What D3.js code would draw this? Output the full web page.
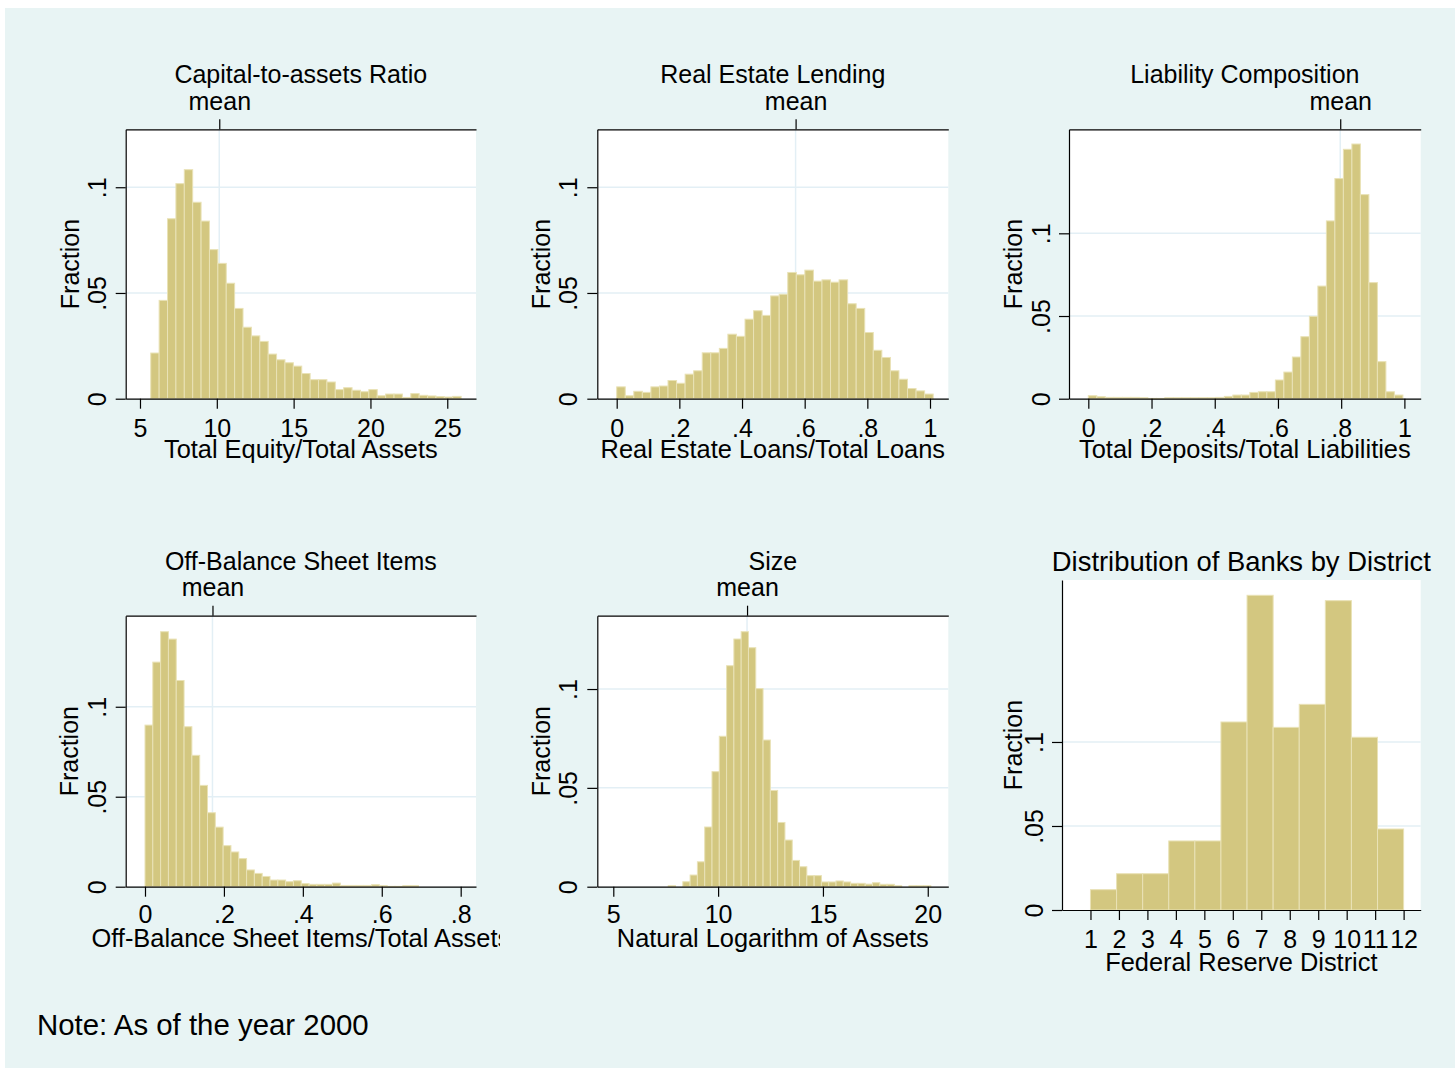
<!DOCTYPE html>
<html>
<head>
<meta charset="utf-8">
<script src="https://cdn.jsdelivr.net/npm/d3@7"></script>
<style>
  body { margin: 0; background: #fff; }
  svg { display: block; }
  text { font-family: "Liberation Sans", Arial, sans-serif; fill: #000; }
</style>
</head>
<body>
<div id="container"></div>
<script>
// ---- data (fractions per bin) ----
const capitalStart = 5.70, capitalStep = 0.546, capitalMean = 10.16;
const capitalFrac = [0.0216, 0.0465, 0.0851, 0.1017, 0.1083, 0.0929, 0.0840, 0.0705, 0.0640, 0.0546,
  0.0427, 0.0338, 0.0297, 0.0271, 0.0211, 0.0184, 0.0170, 0.0154, 0.0119, 0.0090,
  0.0090, 0.0079, 0.0043, 0.0052, 0.0040, 0.0033, 0.0043, 0.0014, 0.0022, 0.0022,
  0.0006, 0.0024, 0.0016, 0.0013, 0.0010, 0.0008, 0.0011];

const realEstateStart = 0, realEstateStep = 0.0273, realEstateMean = 0.571;
const realEstateFrac = [0.0056, 0.0014, 0.0035, 0.0030, 0.0056, 0.0060, 0.0086, 0.0073, 0.0116, 0.0132,
  0.0217, 0.0217, 0.0238, 0.0305, 0.0295, 0.0376, 0.0416, 0.0394, 0.0486, 0.0494,
  0.0597, 0.0586, 0.0608, 0.0556, 0.0562, 0.0551, 0.0562, 0.0449, 0.0427, 0.0313,
  0.0229, 0.0195, 0.0132, 0.0092, 0.0048, 0.0037, 0.0022];

const depositStart = 0, depositStep = 0.0269, depositMean = 0.797;
const depositFrac = [0.0018, 0.0012, 0.0008, 0.0008, 0.0008, 0.0008, 0.0006, 0.0002, 0.0002, 0.0006,
  0.0006, 0.0006, 0.0006, 0.0006, 0.0006, 0.0008, 0.0014, 0.0022, 0.0022, 0.0038,
  0.0042, 0.0042, 0.0113, 0.0161, 0.0252, 0.0375, 0.0498, 0.0681, 0.1075, 0.1331,
  0.1508, 0.1540, 0.1234, 0.0702, 0.0224, 0.0042, 0.0022];

const offBalanceStart = 0, offBalanceStep = 0.0198, offBalanceMean = 0.171;
const offBalanceFrac = [0.0898, 0.1248, 0.1417, 0.1376, 0.1146, 0.0889, 0.0730, 0.0563, 0.0411, 0.0331,
  0.0228, 0.0193, 0.0156, 0.0093, 0.0074, 0.0057, 0.0037, 0.0037, 0.0028, 0.0033,
  0.0017, 0.0013, 0.0013, 0.0013, 0.0020, 0.0007, 0.0007, 0.0007, 0.0007, 0.0011,
  0.0006, 0.0002, 0.0002, 0.0006, 0.0006];

const sizeStart = 7.62, sizeStep = 0.348, sizeMean = 11.38;
const sizeFrac = [0.0005, 0.0000, 0.0025, 0.0059, 0.0126, 0.0302, 0.0582, 0.0761, 0.1118, 0.1253,
  0.1290, 0.1209, 0.1002, 0.0742, 0.0487, 0.0325, 0.0236, 0.0133, 0.0101, 0.0056,
  0.0056, 0.0024, 0.0024, 0.0029, 0.0024, 0.0017, 0.0017, 0.0013, 0.0020, 0.0012,
  0.0012, 0.0005, 0.0000, 0.0005, 0.0005, 0.0005];

const districtStart = 1, districtStep = 11 / 12;
const districtFrac = [0.0121, 0.0216, 0.0216, 0.0411, 0.0411, 0.1119, 0.1873, 0.1087, 0.1224, 0.1841, 0.1028, 0.0482];

// tick values
const yTicks = [0, 0.05, 0.1];
const capitalTicks = [5, 10, 15, 20, 25];
const shareTicks = [0, 0.2, 0.4, 0.6, 0.8, 1];
const offBalanceTicks = [0, 0.2, 0.4, 0.6, 0.8];
const sizeTicks = [5, 10, 15, 20];
const districtTicks = [1, 2, 3, 4, 5, 6, 7, 8, 9, 10, 11, 12];

const W = 1455, H = 1068;
const barFill = "#d3c780", barStroke = "#e9e2b6", gridColor = "#e3eff5";
const fs = 25;

function numFmt(v) {
  if (v === 0) return "0";
  if (Number.isInteger(v)) return String(v);
  return String(+v.toFixed(3)).replace(/^0\./, ".");
}

const svg = d3.select("#container").append("svg")
  .attr("width", W).attr("height", H).attr("viewBox", [0, 0, W, H]);

svg.append("rect").attr("x", 5).attr("y", 8).attr("width", W - 5).attr("height", H - 8)
  .attr("fill", "#e8f4f4");

const defs = svg.append("defs");
defs.append("clipPath").attr("id", "clip4")
  .append("rect").attr("x", 0).attr("y", 0).attr("width", 500).attr("height", H);

function bins(start, step, frac) {
  return frac.map((f, i) => ({x0: start + i * step, x1: start + (i + 1) * step, f}));
}

const panels = [
  {title: "Capital-to-assets Ratio", xlabel: "Total Equity/Total Assets",
   data: bins(capitalStart, capitalStep, capitalFrac), mean: capitalMean, xTicks: capitalTicks,
   left: 125.7, right: 476, top: 129.3, bottom: 398.7, xDomain: [4.07, 26.87], yMax: 0.1274,
   tickBase: 38, labelBase: 59, yLab: 106, fracLab: 79},
  {title: "Real Estate Lending", xlabel: "Real Estate Loans/Total Loans",
   data: bins(realEstateStart, realEstateStep, realEstateFrac), mean: realEstateMean, xTicks: shareTicks,
   left: 597.3, right: 948.3, top: 129.3, bottom: 398.7, xDomain: [-0.0619, 1.0584], yMax: 0.1274,
   tickBase: 38, labelBase: 59, yLab: 577, fracLab: 550},
  {title: "Liability Composition", xlabel: "Total Deposits/Total Liabilities",
   data: bins(depositStart, depositStep, depositFrac), mean: depositMean, xTicks: shareTicks,
   left: 1069, right: 1420.7, top: 129.3, bottom: 398.7, xDomain: [-0.0611, 1.0516], yMax: 0.1629,
   tickBase: 38, labelBase: 59, yLab: 1050, fracLab: 1022},
  {title: "Off-Balance Sheet Items", xlabel: "Off-Balance Sheet Items/Total Assets", clip: "url(#clip4)",
   data: bins(offBalanceStart, offBalanceStep, offBalanceFrac), mean: offBalanceMean, xTicks: offBalanceTicks,
   left: 125.7, right: 476, top: 615.7, bottom: 886.7, xDomain: [-0.0489, 0.8388], yMax: 0.1506,
   tickBase: 36.5, labelBase: 60, yLab: 106, fracLab: 78},
  {title: "Size", xlabel: "Natural Logarithm of Assets",
   data: bins(sizeStart, sizeStep, sizeFrac), mean: sizeMean, xTicks: sizeTicks,
   left: 597.3, right: 948.3, top: 615.7, bottom: 886.7, xDomain: [4.237, 20.98], yMax: 0.1371,
   tickBase: 36.5, labelBase: 60, yLab: 577, fracLab: 550},
  {title: "Distribution of Banks by District", xlabel: "Federal Reserve District", big: true,
   data: bins(districtStart, districtStep, districtFrac), mean: null, xTicks: districtTicks,
   left: 1062, right: 1420.7, top: 580, bottom: 910, xDomain: [0, 12.6], yMax: 0.1964,
   tickBase: 38, labelBase: 61, yLab: 1043, fracLab: 1022}
];

function styleAxis(g) {
  g.attr("font-family", null).attr("font-size", null);
  g.selectAll("path.domain, line").attr("stroke", "#000").attr("stroke-width", 1.2);
  g.selectAll("text").attr("font-size", fs).attr("fill", "#000");
}

panels.forEach(p => {
  const x = d3.scaleLinear().domain(p.xDomain).range([p.left, p.right]);
  const y = d3.scaleLinear().domain([0, p.yMax]).range([p.bottom, p.top]);
  const g = svg.append("g");

  g.append("rect").attr("x", p.left).attr("y", p.top)
    .attr("width", p.right - p.left).attr("height", p.bottom - p.top).attr("fill", "#fff");

  // grid
  g.append("g").selectAll("line").data(yTicks.filter(t => t > 0)).join("line")
    .attr("x1", p.left).attr("x2", p.right)
    .attr("y1", d => y(d)).attr("y2", d => y(d))
    .attr("stroke", gridColor).attr("stroke-width", 1.5);
  if (p.mean !== null) {
    g.append("line").attr("x1", x(p.mean)).attr("x2", x(p.mean))
      .attr("y1", p.top).attr("y2", p.bottom)
      .attr("stroke", gridColor).attr("stroke-width", 1.5);
  }

  // bars
  g.append("g").selectAll("rect").data(p.data.filter(d => d.f > 0)).join("rect")
    .attr("x", d => x(d.x0)).attr("width", d => x(d.x1) - x(d.x0))
    .attr("y", d => y(d.f)).attr("height", d => y(0) - y(d.f))
    .attr("fill", barFill).attr("stroke", barStroke).attr("stroke-width", 1);

  // left axis
  const ya = g.append("g").attr("transform", `translate(${p.left},0)`)
    .call(d3.axisLeft(y).tickValues(yTicks).tickFormat(numFmt).tickSize(10).tickSizeOuter(0));
  styleAxis(ya);
  ya.selectAll(".tick text")
    .attr("x", null).attr("dy", null)
    .attr("transform", `translate(${p.yLab - p.left},0) rotate(-90)`)
    .attr("text-anchor", "middle");

  // bottom axis
  const xa = g.append("g").attr("transform", `translate(0,${p.bottom})`)
    .call(d3.axisBottom(x).tickValues(p.xTicks).tickFormat(numFmt).tickSize(10).tickSizeOuter(0));
  styleAxis(xa);
  xa.selectAll(".tick text").attr("y", p.tickBase).attr("dy", null);

  // top axis with mean marker
  if (p.mean !== null) {
    const ta = g.append("g").attr("transform", `translate(0,${p.top})`)
      .call(d3.axisTop(x).tickValues([p.mean]).tickFormat(() => "mean").tickSize(10).tickSizeOuter(0));
    styleAxis(ta);
    ta.selectAll(".tick text").attr("y", -19.5).attr("dy", null);
  }

  const cx = (p.left + p.right) / 2;
  // title
  g.append("text").attr("x", cx)
    .attr("y", p.big ? p.top - 9 : p.top - 46)
    .attr("text-anchor", "middle").attr("font-size", p.big ? 27.4 : fs)
    .text(p.title);

  // x label
  g.append("text").attr("x", cx).attr("y", p.bottom + p.labelBase)
    .attr("text-anchor", "middle").attr("font-size", fs + 0.4)
    .attr("clip-path", p.clip || null)
    .text(p.xlabel);

  // y label
  g.append("text")
    .attr("transform", `translate(${p.fracLab},${(p.top + p.bottom) / 2}) rotate(-90)`)
    .attr("text-anchor", "middle").attr("font-size", fs)
    .text("Fraction");
});

svg.append("text").attr("x", 37).attr("y", 1035).attr("font-size", 29.4)
  .text("Note: As of the year 2000");
</script>
</body>
</html>
